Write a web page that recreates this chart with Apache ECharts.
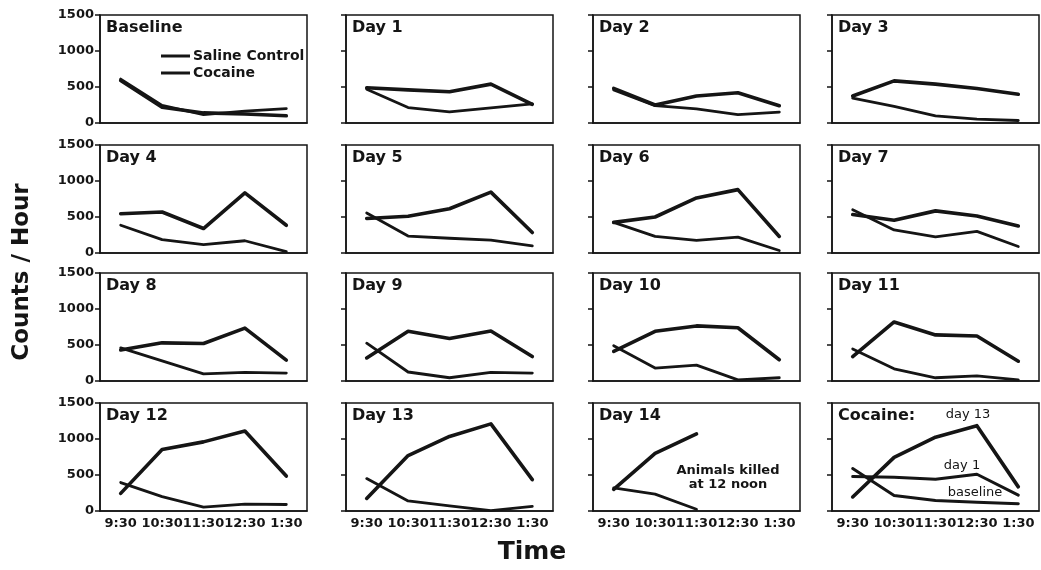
<!DOCTYPE html>
<html>
<head>
<meta charset="utf-8">
<script src="https://cdn.jsdelivr.net/npm/echarts@6/dist/echarts.min.js"></script>
<style>html,body{margin:0;padding:0;background:#fff}#c{width:1041px;height:570px}</style>
</head>
<body>
<div id="c"></div>
<script>
// ---- data ----
const times = ['9:30', '10:30', '11:30', '12:30', '1:30'];
const yTicks = [0, 500, 1000, 1500];
const panelTitles = ['Baseline', 'Day 1', 'Day 2', 'Day 3', 'Day 4', 'Day 5', 'Day 6', 'Day 7',
  'Day 8', 'Day 9', 'Day 10', 'Day 11', 'Day 12', 'Day 13', 'Day 14', 'Cocaine:'];

const salineBaseline = [610, 245, 115, 165, 200];
const cocaineBaseline = [590, 220, 140, 125, 100];
const salineDay1 = [470, 215, 155, 210, 265];
const cocaineDay1 = [490, 460, 435, 540, 260];
const salineDay2 = [460, 240, 195, 115, 150];
const cocaineDay2 = [480, 250, 375, 420, 240];
const salineDay3 = [345, 230, 100, 55, 35];
const cocaineDay3 = [375, 585, 540, 480, 400];
const salineDay4 = [385, 185, 115, 170, 20];
const cocaineDay4 = [545, 570, 340, 835, 385];
const salineDay5 = [555, 235, 205, 180, 100];
const cocaineDay5 = [480, 510, 615, 845, 285];
const salineDay6 = [425, 230, 175, 220, 35];
const cocaineDay6 = [425, 500, 765, 880, 230];
const salineDay7 = [600, 320, 225, 300, 90];
const cocaineDay7 = [535, 455, 585, 515, 375];
const salineDay8 = [460, 280, 100, 120, 110];
const cocaineDay8 = [430, 530, 520, 735, 290];
const salineDay9 = [525, 125, 45, 120, 110];
const cocaineDay9 = [320, 690, 590, 695, 340];
const salineDay10 = [490, 180, 220, 15, 45];
const cocaineDay10 = [410, 690, 765, 740, 295];
const salineDay11 = [445, 170, 45, 70, 15];
const cocaineDay11 = [340, 820, 640, 625, 275];
const salineDay12 = [395, 200, 55, 95, 90];
const cocaineDay12 = [245, 855, 960, 1110, 485];
const salineDay13 = [450, 140, 70, 5, 65];
const cocaineDay13 = [175, 770, 1035, 1210, 435];
const salineDay14 = [320, 235, 25, null, null];
const cocaineDay14 = [300, 800, 1070, null, null];
// summary panel (cocaine only)
const summaryDay13 = [195, 745, 1025, 1185, 335];
const summaryDay1 = [480, 470, 440, 510, 220];
const summaryBaseline = [590, 215, 145, 120, 100];

const salinePanels = [salineBaseline, salineDay1, salineDay2, salineDay3, salineDay4, salineDay5, salineDay6,
  salineDay7, salineDay8, salineDay9, salineDay10, salineDay11, salineDay12, salineDay13, salineDay14];
const cocainePanels = [cocaineBaseline, cocaineDay1, cocaineDay2, cocaineDay3, cocaineDay4, cocaineDay5, cocaineDay6,
  cocaineDay7, cocaineDay8, cocaineDay9, cocaineDay10, cocaineDay11, cocaineDay12, cocaineDay13, cocaineDay14];

// ---- layout ----
const FONT = 'DejaVu Sans';
const INK = '#151515';
const gridLefts = [100, 346, 593, 832];
const gridTops = [15, 145, 273, 403];
const W = 207, H = 108;

const grids = [], xAxes = [], yAxes = [], series = [], titles = [];
for (let i = 0; i < 16; i++) {
  const r = Math.floor(i / 4), c = i % 4;
  grids.push({ left: gridLefts[c], top: gridTops[r], width: W, height: H, show: true,
    borderColor: INK, borderWidth: 1.5, backgroundColor: 'transparent' });
  xAxes.push({ type: 'category', gridIndex: i, data: times, boundaryGap: true,
    axisLine: { lineStyle: { color: INK, width: 1.5 } },
    axisTick: { alignWithLabel: true, length: 5, lineStyle: { color: INK, width: 1.5 } },
    axisLabel: { show: r === 3, interval: 0, margin: 6, color: INK, fontFamily: FONT, fontWeight: 'bold', fontSize: 13 },
    splitLine: { show: false } });
  yAxes.push({ type: 'value', gridIndex: i, min: yTicks[0], max: yTicks[yTicks.length - 1], interval: 500,
    axisLine: { show: true, lineStyle: { color: INK, width: 1.5 } },
    axisTick: { show: true, length: 5, lineStyle: { color: INK, width: 1.5 } },
    axisLabel: { show: c === 0, margin: 6, color: INK, fontFamily: FONT, fontWeight: 'bold', fontSize: 13,
      formatter: v => String(v) },
    splitLine: { show: false } });
  titles.push({ text: panelTitles[i], left: gridLefts[c] + 6, top: gridTops[r] + 5, padding: 0,
    textStyle: { fontFamily: FONT, fontWeight: 'bold', fontSize: 16, color: INK } });
  const base = { type: 'line', xAxisIndex: i, yAxisIndex: i, showSymbol: false, symbol: 'none',
    silent: true, animation: false, connectNulls: false, color: INK };
  if (i < 15) {
    series.push(Object.assign({}, base, { name: 'Saline Control', data: salinePanels[i],
      lineStyle: { color: INK, width: 2.8, join: 'round', cap: 'round' } }));
    series.push(Object.assign({}, base, { name: 'Cocaine', data: cocainePanels[i],
      lineStyle: { color: INK, width: 3.6, join: 'round', cap: 'round' } }));
  } else {
    [summaryDay13, summaryDay1, summaryBaseline].forEach((d, k) => {
      series.push(Object.assign({}, base, { name: ['day 13', 'day 1', 'baseline'][k], data: d,
        lineStyle: { color: INK, width: k === 0 ? 3.6 : 3, join: 'round', cap: 'round' } }));
    });
  }
}

const option = {
  backgroundColor: '#fff',
  animation: false,
  title: titles,
  legend: { data: ['Saline Control', 'Cocaine'], left: 156, top: 44, orient: 'vertical',
    icon: 'rect', itemWidth: 29, itemHeight: 3, itemGap: 3, selectedMode: false,
    textStyle: { fontFamily: FONT, fontWeight: 'bold', fontSize: 14, color: INK, padding: [0, 0, 0, -2] } },
  grid: grids,
  xAxis: xAxes,
  yAxis: yAxes,
  series: series,
  graphic: [
    { type: 'text', x: 22, y: 272, rotation: Math.PI / 2,
      style: { text: 'Counts / Hour', fontFamily: FONT, fontWeight: 'bold', fontSize: 23, fill: INK, align: 'center', verticalAlign: 'middle' } },
    { type: 'text', x: 532, y: 552,
      style: { text: 'Time', fontFamily: FONT, fontWeight: 'bold', fontSize: 25, fill: INK, align: 'center', verticalAlign: 'middle' } },
    { type: 'text', x: 728, y: 478,
      style: { text: 'Animals killed\nat 12 noon', fontFamily: FONT, fontWeight: 'bold', fontSize: 13, lineHeight: 14, fill: INK, align: 'center', verticalAlign: 'middle' } },
    { type: 'text', x: 968, y: 415,
      style: { text: 'day 13', fontFamily: FONT, fontSize: 13, fill: INK, align: 'center', verticalAlign: 'middle' } },
    { type: 'text', x: 962, y: 466,
      style: { text: 'day 1', fontFamily: FONT, fontSize: 13, fill: INK, align: 'center', verticalAlign: 'middle' } },
    { type: 'text', x: 975, y: 493,
      style: { text: 'baseline', fontFamily: FONT, fontSize: 13, fill: INK, align: 'center', verticalAlign: 'middle' } }
  ]
};

const chart = echarts.init(document.getElementById('c'), null, { renderer: 'canvas' });
chart.setOption(option);
</script>
</body>
</html>
